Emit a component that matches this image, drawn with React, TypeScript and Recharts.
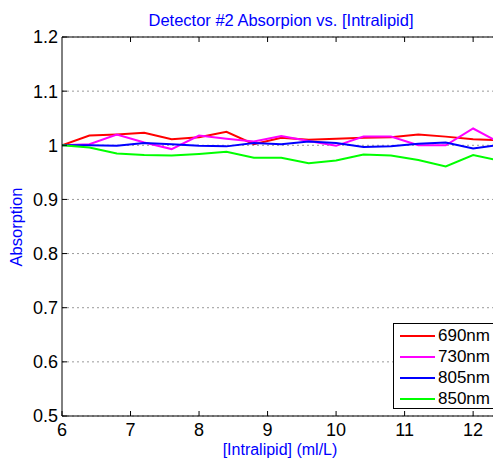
import React from 'react';
import { LineChart, Line, XAxis, YAxis, CartesianGrid, Legend } from 'recharts';

const intralipid = [6, 6.4, 6.8, 7.2, 7.6, 8, 8.4, 8.8, 9.2, 9.6, 10, 10.4, 10.8, 11.2, 11.6, 12, 12.4];
const s690 = [1.0, 1.018, 1.02, 1.023, 1.011, 1.015, 1.025, 1.002, 1.014, 1.01, 1.012, 1.014, 1.015, 1.02, 1.016, 1.011, 1.009];
const s730 = [1.0, 1.002, 1.02, 1.005, 0.993, 1.018, 1.012, 1.007, 1.017, 1.008, 0.999, 1.016, 1.016, 1.0, 1.0, 1.031, 1.004];
const s805 = [1.0, 1.0, 0.999, 1.004, 1.002, 0.999, 0.998, 1.004, 1.002, 1.007, 1.004, 0.997, 0.998, 1.003, 1.005, 0.994, 1.001];
const s850 = [1.0, 0.996, 0.985, 0.982, 0.981, 0.984, 0.988, 0.977, 0.977, 0.967, 0.972, 0.983, 0.981, 0.973, 0.961, 0.982, 0.971];

const xTicks = [6, 7, 8, 9, 10, 11, 12];
const yTicks = [0.5, 0.6, 0.7, 0.8, 0.9, 1.0, 1.1, 1.2];

const seriesNames = ['690nm', '730nm', '805nm', '850nm'];
const seriesValues = [s690, s730, s805, s850];
const seriesColors = ['#ff0000', '#ff00ff', '#0000ff', '#00ff00'];

const data = intralipid.map((x, i) => {
  const row: Record<string, number> = { x };
  seriesNames.forEach((n, j) => {
    row[n] = seriesValues[j][i];
  });
  return row;
});

const FONT = '"Liberation Sans", Arial, Helvetica, sans-serif';

const fmt = (v: number) => String(Number(v.toFixed(1)));

const BottomTick = (props: any) => {
  const { x, y, payload } = props;
  return (
    <g>
      <line x1={x} y1={y} x2={x} y2={y - 5} stroke="#000" strokeWidth={1} />
      <text x={x} y={y + 19.5} textAnchor="middle" fontSize={18} fontFamily={FONT} fill="#000">
        {fmt(payload.value)}
      </text>
    </g>
  );
};

const TopTick = (props: any) => {
  const { x, y } = props;
  return <line x1={x} y1={y} x2={x} y2={y + 5} stroke="#000" strokeWidth={1} />;
};

const LeftTick = (props: any) => {
  const { x, y, payload } = props;
  return (
    <g>
      <line x1={x} y1={y} x2={x + 5} y2={y} stroke="#000" strokeWidth={1} />
      <text x={x - 4} y={y} dy="0.36em" textAnchor="end" fontSize={18} fontFamily={FONT} fill="#000">
        {fmt(payload.value)}
      </text>
    </g>
  );
};

const LegendBox = () => (
  <div
    style={{
      width: 110,
      height: 86,
      border: '1px solid #000',
      background: '#fff',
      boxSizing: 'border-box',
      fontFamily: FONT,
      fontSize: 17,
      paddingTop: 1,
    }}
  >
    {seriesNames.map((n, j) => (
      <div key={n} style={{ display: 'flex', alignItems: 'center', height: 21, lineHeight: '21px' }}>
        <div style={{ width: 35, height: 2, background: seriesColors[j], marginLeft: 6, marginRight: 3 }} />
        <span style={{ color: '#000' }}>{n}</span>
      </div>
    ))}
  </div>
);

export default function App() {
  return (
    <div style={{ position: 'absolute', left: 0, top: 0, width: 493, height: 460, overflow: 'hidden', background: '#fff' }}>
      <LineChart width={493} height={460} data={data} margin={{ top: 36, right: 0, bottom: 0, left: 0 }}>
        <CartesianGrid vertical={false} stroke="#9a9a9a" strokeDasharray="2 3" />
        <XAxis
          xAxisId="b"
          dataKey="x"
          type="number"
          domain={[6, 12.29]}
          allowDataOverflow
          ticks={xTicks}
          height={44}
          tickSize={0}
          tickMargin={0}
          tick={<BottomTick />}
          axisLine={{ stroke: '#000' }}
          label={() => (
            <text x={280} y={455} textAnchor="middle" fontSize={16} fontFamily={FONT} fill="#0000ff">
              [Intralipid] (ml/L)
            </text>
          )}
        />
        <XAxis
          xAxisId="t"
          orientation="top"
          dataKey="x"
          type="number"
          domain={[6, 12.29]}
          allowDataOverflow
          ticks={xTicks.slice(1)}
          height={1}
          tickSize={0}
          tickMargin={0}
          tick={<TopTick />}
          axisLine={{ stroke: '#000' }}
          label={() => (
            <text x={281} y={26} textAnchor="middle" fontSize={16.5} fontFamily={FONT} fill="#0000ff">
              Detector #2 Absorpion vs. [Intralipid]
            </text>
          )}
        />
        <YAxis
          type="number"
          domain={[0.5, 1.2]}
          ticks={yTicks}
          width={62}
          tickSize={0}
          tickMargin={0}
          tick={<LeftTick />}
          axisLine={{ stroke: '#000' }}
          interval={0}
          label={() => (
            <text x={22} y={227} textAnchor="middle" fontSize={16.5} fontFamily={FONT} fill="#0000ff" transform="rotate(-90 22 227)">
              Absorption
            </text>
          )}
        />
        {seriesNames.map((n, j) => (
          <Line
            key={n}
            xAxisId="b"
            dataKey={n}
            stroke={seriesColors[j]}
            strokeWidth={2}
            dot={false}
            isAnimationActive={false}
          />
        ))}
        <Legend
          layout="vertical"
          align="center"
          verticalAlign="middle"
          content={() => <LegendBox />}
          wrapperStyle={{ left: 393, top: 323, width: 110, height: 86 }}
        />
      </LineChart>
    </div>
  );
}
